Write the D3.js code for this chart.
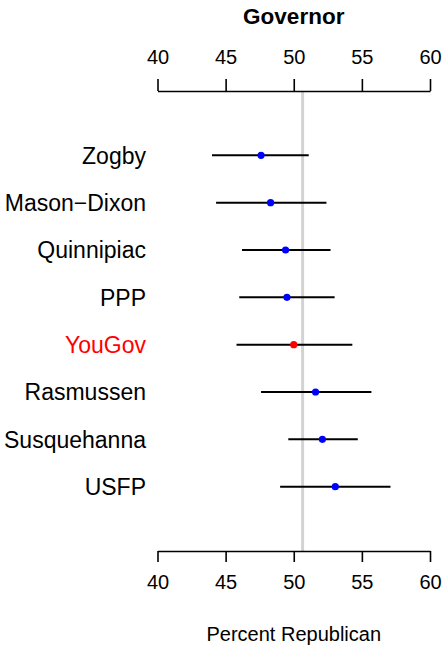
<!DOCTYPE html>
<html><head><meta charset="utf-8">
<script src="https://cdn.jsdelivr.net/npm/d3@7"></script>
<style>body{margin:0;background:#fff}svg{display:block}</style>
</head><body>
<svg id="c" width="442" height="645"></svg>
<script>
const pollsters = ["Zogby","Mason\u2212Dixon","Quinnipiac","PPP","YouGov","Rasmussen","Susquehanna","USFP"];
const estimate  = [47.6, 48.3, 49.4, 49.5, 50.0, 51.6, 52.1, 53.05];
const lower     = [44.0, 44.3, 46.2, 46.0, 45.8, 47.6, 49.6, 49.0];
const upper     = [51.1, 52.4, 52.7, 53.0, 54.3, 55.7, 54.7, 57.1];
const highlight = ["YouGov"];
const tickValues = [40,45,50,55,60];
const referenceValue = 50.65;
const title = "Governor";
const xLabel = "Percent Republican";

(function(){
const svg = d3.select("#c");
const font = "Liberation Sans, Arial, Helvetica, sans-serif";
const x = d3.scaleLinear().domain([40,60]).range([157.5,430]);
const yIdx = d3.scaleLinear().domain([-0.36, 9.36]).range([551, 91]);
const y = i => yIdx(8 - i);

// reference line
svg.append("line")
  .attr("x1", x(referenceValue)).attr("x2", x(referenceValue))
  .attr("y1", 91).attr("y2", 551)
  .attr("stroke", "#d3d3d3").attr("stroke-width", 3);

// axes
function styleAxis(g){
  g.select(".domain").attr("stroke","#000").attr("stroke-width",1.6);
  g.selectAll(".tick line").attr("stroke","#000").attr("stroke-width",1.6);
  g.selectAll(".tick text").attr("font-family",font).attr("font-size","20px").attr("fill","#000");
}
const topAxis = svg.append("g").attr("transform","translate(0,91)")
  .call(d3.axisTop(x).tickValues(tickValues).tickSize(12).tickSizeOuter(0).tickPadding(15));
styleAxis(topAxis);
const botAxis = svg.append("g").attr("transform","translate(0,551)")
  .call(d3.axisBottom(x).tickValues(tickValues).tickSize(11).tickSizeOuter(0).tickPadding(13));
styleAxis(botAxis);

// error bars
const rows = pollsters.map((p,i)=>({p, i, est:estimate[i], lo:lower[i], hi:upper[i]}));
svg.append("g").selectAll("line").data(rows).join("line")
  .attr("x1", d=>x(d.lo)).attr("x2", d=>x(d.hi))
  .attr("y1", d=>y(d.i)).attr("y2", d=>y(d.i))
  .attr("stroke","#000").attr("stroke-width",2);
svg.append("g").selectAll("circle").data(rows).join("circle")
  .attr("cx", d=>x(d.est)).attr("cy", d=>y(d.i)).attr("r",3.6)
  .attr("fill", d=>highlight.includes(d.p) ? "#ff0000" : "#0000ff");

// labels
svg.append("g").selectAll("text").data(rows).join("text")
  .attr("x",146).attr("y", d=>y(d.i)+8.2)
  .attr("text-anchor","end")
  .attr("font-family",font).attr("font-size","23px")
  .attr("fill", d=>highlight.includes(d.p) ? "#ff0000" : "#000")
  .text(d=>d.p);

svg.append("text").attr("x",(x(40)+x(60))/2).attr("y",23.5)
  .attr("text-anchor","middle").attr("font-family",font)
  .attr("font-size","22.5px").attr("font-weight","bold").text(title);
svg.append("text").attr("x",(x(40)+x(60))/2).attr("y",640.5)
  .attr("text-anchor","middle").attr("font-family",font)
  .attr("font-size","20px").text(xLabel);
})();
</script>
</body></html>
